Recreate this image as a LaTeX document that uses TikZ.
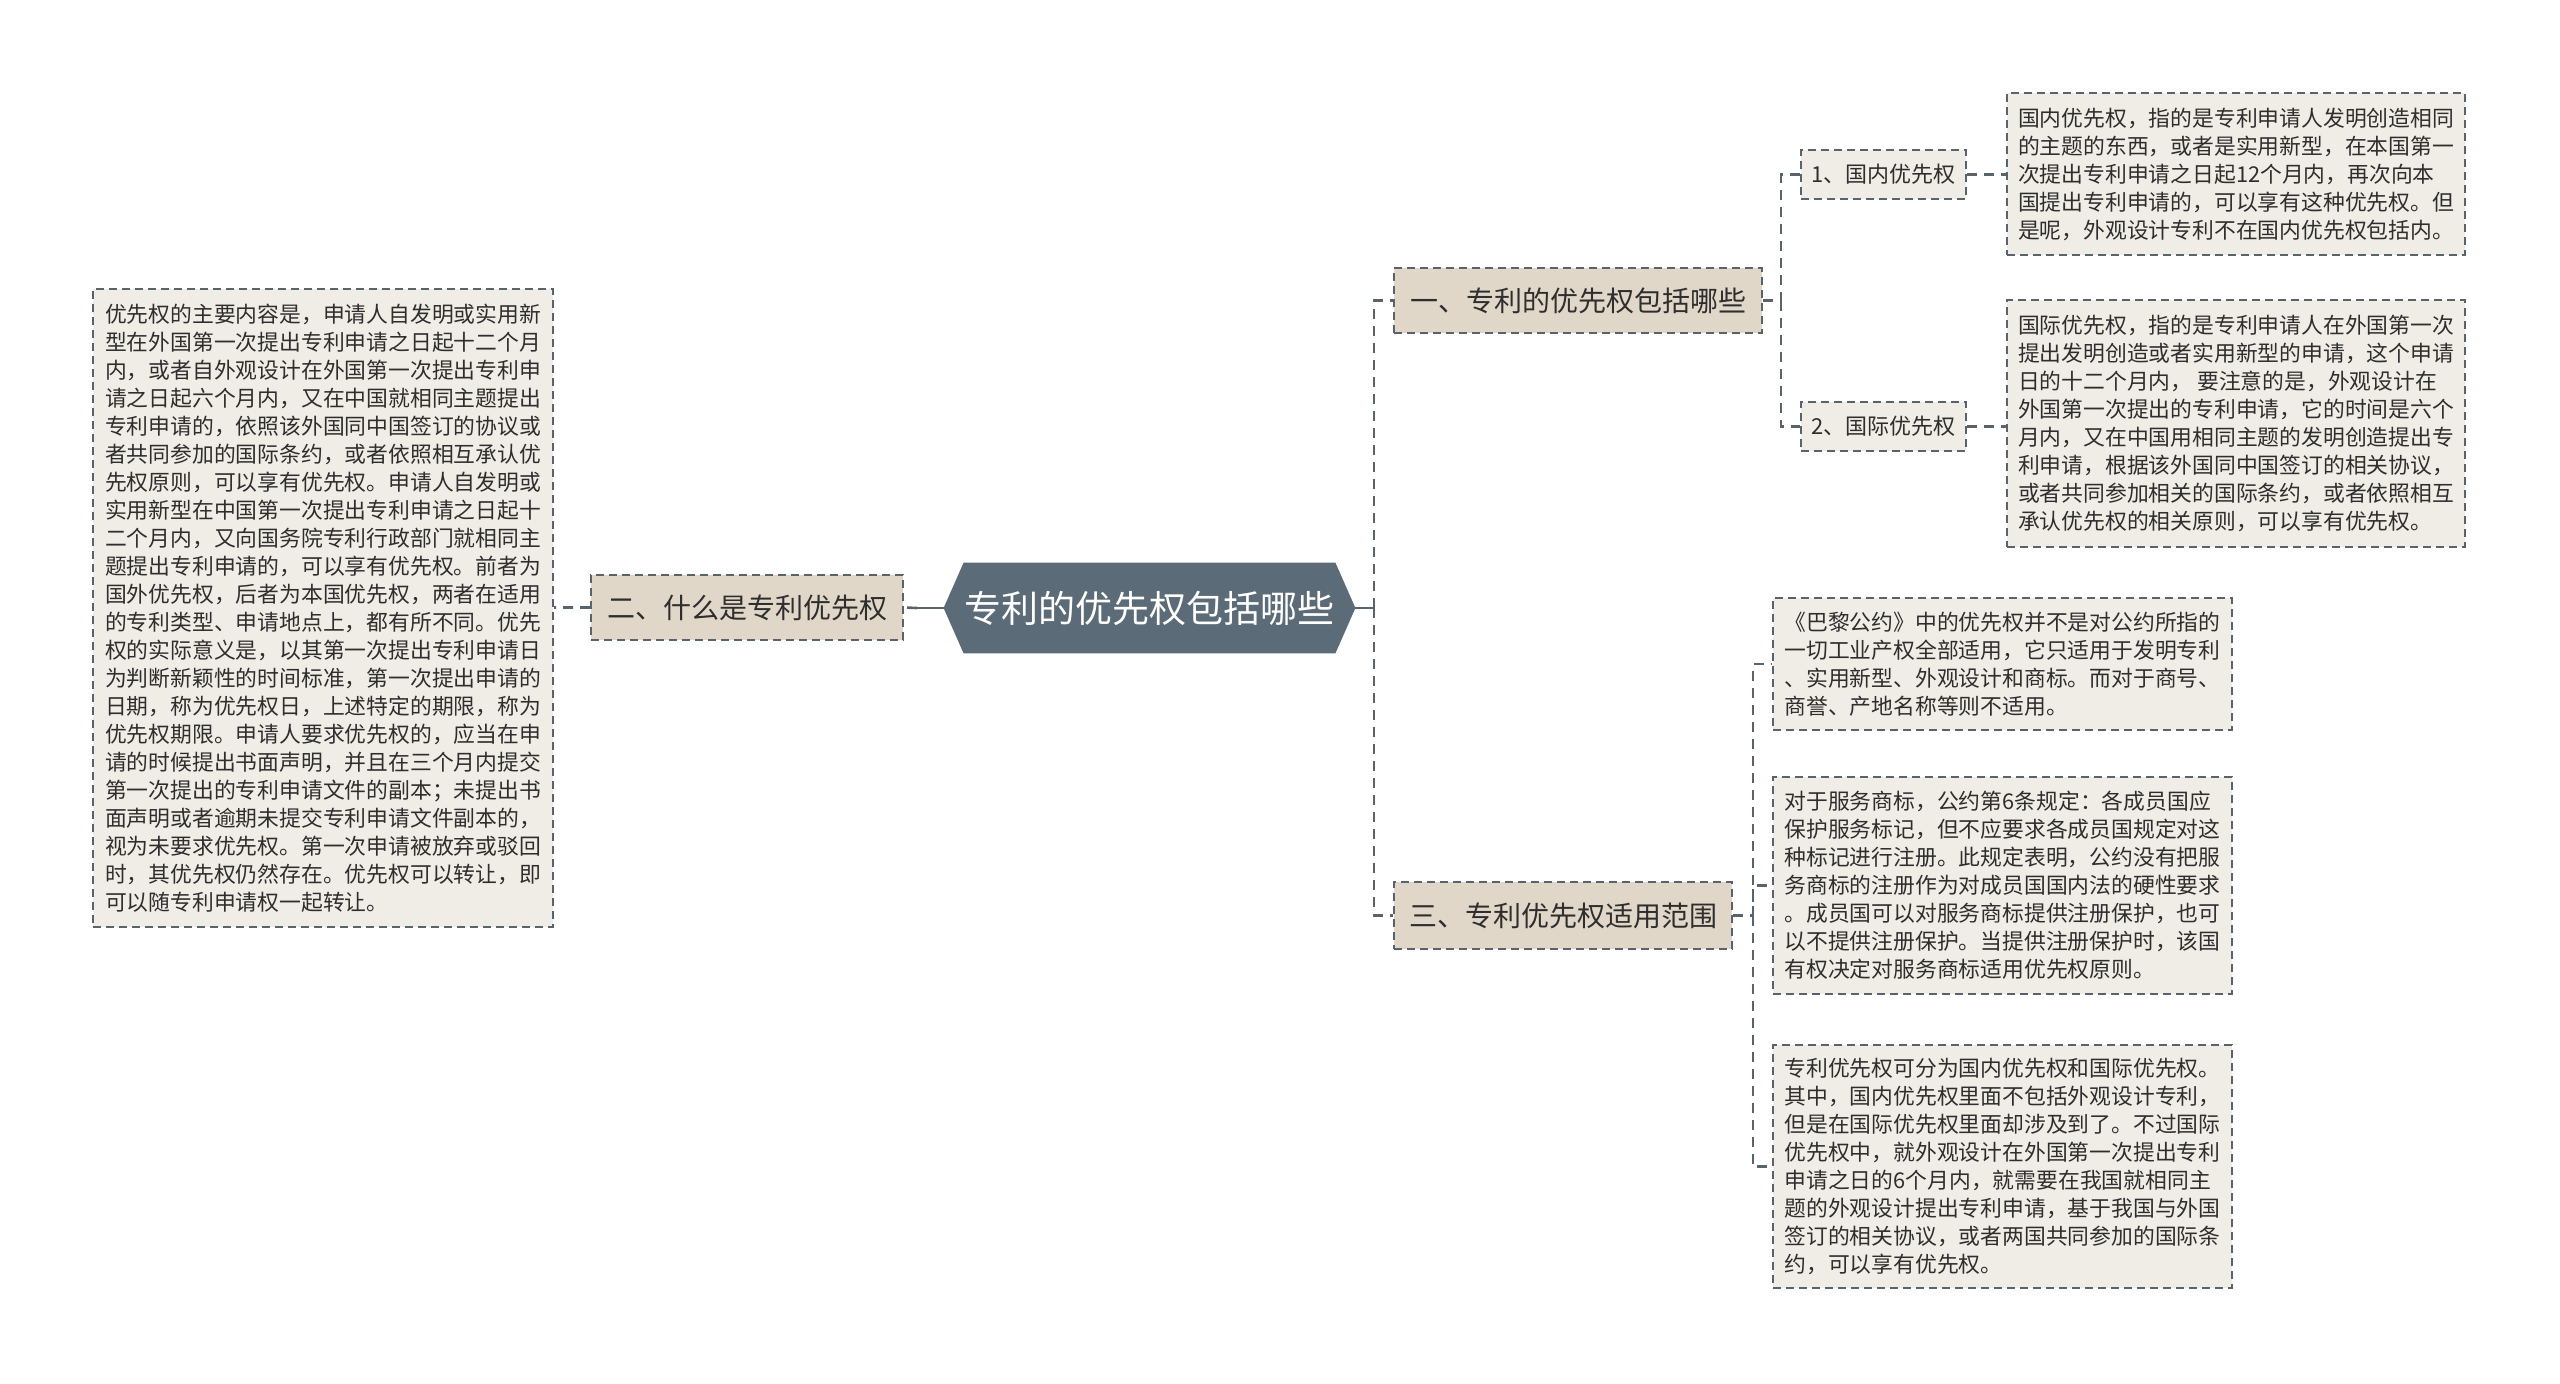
\documentclass[tikz,border=0pt]{standalone}
\usepackage{fontspec}
\setmainfont{Noto Sans CJK SC}
\usetikzlibrary{backgrounds}
\definecolor{rootc}{HTML}{5B6B78}
\definecolor{lvlc}{HTML}{E1D7C9}
\definecolor{leafc}{HTML}{F0EDE6}
\definecolor{linec}{HTML}{59636C}
\definecolor{txtc}{HTML}{2E2E2E}

\begin{document}
\begin{tikzpicture}[x=0.5pt,y=-0.5pt,
box/.style={draw=linec,line width=1pt,dash pattern=on 4pt off 2.5pt,text=txtc,inner sep=0pt},
lvl/.style={box,fill=lvlc,font=\fontsize{14}{17}\selectfont},
sub/.style={box,fill=leafc,font=\fontsize{11}{13}\selectfont},
leaf/.style={box,fill=leafc,align=left,font=\fontsize{10.9}{14}\selectfont},
link/.style={draw=linec,line width=1.3pt},
dlink/.style={link,dash pattern=on 5pt off 3.5pt}]
\useasboundingbox (0,0) rectangle (2560,1383);
\node[text=white,font=\fontsize{18.5}{22}\selectfont,minimum width=205.5pt,minimum height=45pt,inner sep=0pt](root)at(1149.5,608){专利的优先权包括哪些};
\begin{scope}[on background layer]
\fill[rootc](root.west)--([xshift=10pt]root.north west)--([xshift=-10pt]root.north east)--(root.east)
--([xshift=-10pt]root.south east)--([xshift=10pt]root.south west)--cycle;
\end{scope}
% first level
\node[lvl,minimum width=184pt,minimum height=32.5pt](b1)at(1578,300.5){一、专利的优先权包括哪些};
\node[lvl,minimum width=156pt,minimum height=32.5pt](b2)at(747,607.5){二、什么是专利优先权};
\node[lvl,minimum width=169pt,minimum height=33.5pt](b3)at(1563,915.5){三、专利优先权适用范围};
\node[sub,minimum width=82.5pt,minimum height=24.5pt](s1)at(1883.5,174.5){1、国内优先权};
\node[sub,minimum width=82.5pt,minimum height=24.5pt](s2)at(1883.5,426.5){2、国际优先权};
% texts
\node[leaf,minimum width=230pt,minimum height=319pt](tl)at(323,608){优先权的主要内容是，申请人自发明或实用新\\
型在外国第一次提出专利申请之日起十二个月\\
内，或者自外观设计在外国第一次提出专利申\\
请之日起六个月内，又在中国就相同主题提出\\
专利申请的，依照该外国同中国签订的协议或\\
者共同参加的国际条约，或者依照相互承认优\\
先权原则，可以享有优先权。申请人自发明或\\
实用新型在中国第一次提出专利申请之日起十\\
二个月内，又向国务院专利行政部门就相同主\\
题提出专利申请的，可以享有优先权。前者为\\
国外优先权，后者为本国优先权，两者在适用\\
的专利类型、申请地点上，都有所不同。优先\\
权的实际意义是，以其第一次提出专利申请日\\
为判断新颖性的时间标准，第一次提出申请的\\
日期，称为优先权日，上述特定的期限，称为\\
优先权期限。申请人要求优先权的，应当在申\\
请的时候提出书面声明，并且在三个月内提交\\
第一次提出的专利申请文件的副本；未提出书\\
面声明或者逾期未提交专利申请文件副本的，\\
视为未要求优先权。第一次申请被放弃或驳回\\
时，其优先权仍然存在。优先权可以转让，即\\
可以随专利申请权一起转让。};
\node[leaf,minimum width=229pt,minimum height=81pt](t1)at(2236,174){国内优先权，指的是专利申请人发明创造相同\\
的主题的东西，或者是实用新型，在本国第一\\
次提出专利申请之日起12个月内，再次向本\\
国提出专利申请的，可以享有这种优先权。但\\
是呢，外观设计专利不在国内优先权包括内。};
\node[leaf,minimum width=229pt,minimum height=123.5pt](t2)at(2236,423.5){国际优先权，指的是专利申请人在外国第一次\\
提出发明创造或者实用新型的申请，这个申请\\
日的十二个月内， 要注意的是，外观设计在\\
外国第一次提出的专利申请，它的时间是六个\\
月内，又在中国用相同主题的发明创造提出专\\
利申请，根据该外国同中国签订的相关协议，\\
或者共同参加相关的国际条约，或者依照相互\\
承认优先权的相关原则，可以享有优先权。};
\node[leaf,minimum width=229.5pt,minimum height=66pt](t3)at(2002.5,664){《巴黎公约》中的优先权并不是对公约所指的\\
一切工业产权全部适用，它只适用于发明专利\\
、实用新型、外观设计和商标。而对于商号、\\
商誉、产地名称等则不适用。};
\node[leaf,minimum width=229.5pt,minimum height=108.5pt](t4)at(2002.5,885.5){对于服务商标，公约第6条规定：各成员国应\\
保护服务标记，但不应要求各成员国规定对这\\
种标记进行注册。此规定表明，公约没有把服\\
务商标的注册作为对成员国国内法的硬性要求\\
。成员国可以对服务商标提供注册保护，也可\\
以不提供注册保护。当提供注册保护时，该国\\
有权决定对服务商标适用优先权原则。};
\node[leaf,minimum width=229.5pt,minimum height=121.5pt](t5)at(2002.5,1166.5){专利优先权可分为国内优先权和国际优先权。\\
其中，国内优先权里面不包括外观设计专利，\\
但是在国际优先权里面却涉及到了。不过国际\\
优先权中，就外观设计在外国第一次提出专利\\
申请之日的6个月内，就需要在我国就相同主\\
题的外观设计提出专利申请，基于我国与外国\\
签订的相关协议，或者两国共同参加的国际条\\
约，可以享有优先权。};
% links
\coordinate(rj)at(1374,608);
\coordinate(lj)at(917,608);
\coordinate(j1)at(1781,300.5);
\coordinate(j3)at(1753,915.5);
\draw[link](root.east)--(rj);
\draw[dlink](rj)|-(b1.west) (rj)|-(b3.west);
\draw[link](root.west)--(lj);
\draw[dlink](lj)--(b2.east) (b2.west)--(b2.west-|tl.east);
\draw[dlink](b1.east)--(j1)|-(s1.west) (j1)|-(s2.west);
\draw[dlink](s1.east)--(s1.east-|t1.west) (s2.east)--(s2.east-|t2.west);
\draw[dlink](b3.east)--(j3)|-(t3.west) (j3)|-(t4.west) (j3)|-(t5.west);
\end{tikzpicture}
\end{document}
